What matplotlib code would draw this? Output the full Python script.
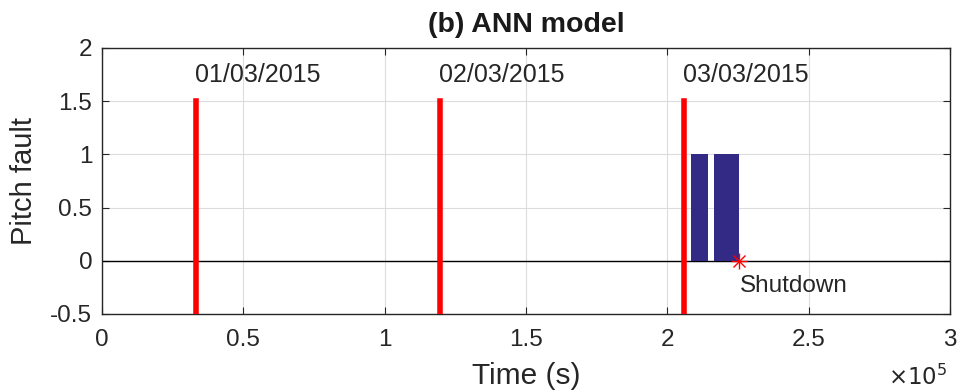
import matplotlib.pyplot as plt

plt.rcParams['font.family'] = ['Liberation Sans', 'DejaVu Sans']

# day markers (s) and their labels
day_times = [33200, 119600, 206000]
day_labels = ['01/03/2015', '02/03/2015', '03/03/2015']

# ANN pitch fault detections: start, end (s), value
fault_start = [208200, 216600]
fault_end = [214400, 225400]
fault_value = [1, 1]

shutdown_time = 225300
shutdown_value = 0

fig = plt.figure(figsize=(9.57, 3.9), dpi=100)
ax = fig.add_axes([102/957, 1-314/390, 848/957, 266/390])

ax.axhline(0, color='k', lw=1.0, zorder=2)
for s, e, v in zip(fault_start, fault_end, fault_value):
    ax.fill_between([s, e], 0, v, color='#322a84', lw=0, zorder=3)

for t, lab in zip(day_times, day_labels):
    ax.plot([t, t], [-0.5, 1.5], color='red', lw=4, zorder=4)
    ax.text(t - 400, 1.75, lab, fontsize=18, color='#262626', ha='left', va='center')

# asterisk marker for the shutdown point
ax.plot(shutdown_time, shutdown_value, marker='+', color='red', ms=11,
        mew=1, linestyle='none', zorder=5)
ax.plot(shutdown_time, shutdown_value, marker='x', color='red', ms=8,
        mew=1, linestyle='none', zorder=5)
ax.text(shutdown_time + 500, -0.24, 'Shutdown', fontsize=17.5, color='#262626',
        ha='left', va='center')

ax.set_xlim(0, 3e5)
ax.set_ylim(-0.5, 2)
ax.set_xticks([0, 0.5e5, 1e5, 1.5e5, 2e5, 2.5e5, 3e5])
ax.set_xticklabels(['0', '0.5', '1', '1.5', '2', '2.5', '3'])
ax.set_yticks([-0.5, 0, 0.5, 1, 1.5, 2])
ax.set_yticklabels(['-0.5', '0', '0.5', '1', '1.5', '2'])
ax.grid(True, color='#dcdcdc', lw=0.8)
ax.set_axisbelow(True)
ax.tick_params(direction='in', top=True, right=True, labelsize=17.5,
               colors='#262626', length=5)
ax.tick_params(axis='x', pad=11)
ax.tick_params(axis='y', pad=7)
for sp in ax.spines.values():
    sp.set_color('#262626')
    sp.set_linewidth(1.0)

ax.set_title('(b) ANN model', fontsize=20.5, fontweight='bold', color='#1a1a1a', pad=11.5)
ax.set_xlabel('Time (s)', fontsize=21.5, color='#262626', labelpad=8)
ax.set_ylabel('Pitch fault', fontsize=21, color='#262626', labelpad=9)
fig.text(918/957, 1-377/390, r'$\times 10^5$', fontsize=16.5, color='#262626',
         ha='center', va='center', math_fontfamily='dejavusans')

fig.savefig('out.png', dpi=100)
